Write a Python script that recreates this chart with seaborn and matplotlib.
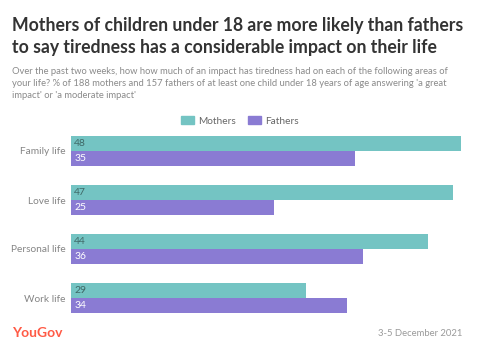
import pandas as pd
import seaborn as sns
import matplotlib.pyplot as plt
from matplotlib.patches import Patch

# Chart data
categories = ["Family life", "Love life", "Personal life", "Work life"]
mothers = [48, 47, 44, 29]
fathers = [35, 25, 36, 34]

df = pd.DataFrame({
    "Area": categories * 2,
    "Group": ["Mothers"] * 4 + ["Fathers"] * 4,
    "Value": mothers + fathers,
})

palette = {"Mothers": "#74c4c3", "Fathers": "#8a7bd3"}

sns.set_theme(style="white")
plt.rcParams["font.family"] = ["Lato", "DejaVu Sans"]

fig = plt.figure(figsize=(4.78, 3.54), dpi=100)
W, H = 478, 354
# axes placed in pixel terms: x=0 at px 71, 50 at px 477
ax = fig.add_axes([71 / W, 1 - 322.5 / H, 406 / W, 196 / H])

sns.barplot(data=df, y="Area", x="Value", hue="Group", palette=palette,
            width=0.612, saturation=1, linewidth=0, ax=ax, legend=False)
ax.set_xlim(0, 50)
ax.set_ylim(3.5, -0.5)
ax.set_xlabel("")
ax.set_ylabel("")
ax.set_xticks([])
sns.despine(ax=ax, left=True, bottom=True)
ax.tick_params(axis="y", length=0, pad=4, labelsize=7.3, labelcolor="#858585")

# value labels inside the bars
for cont, col in zip(ax.containers, ["#3f6866", "white"]):
    for bar in cont:
        ax.text(0.4, bar.get_y() + bar.get_height() / 2, f"{int(bar.get_width())}",
                ha="left", va="center", fontsize=7.5, color=col)

# legend
handles = [Patch(color=palette[g], label=g) for g in ["Mothers", "Fathers"]]
fig.legend(handles=handles, loc="center", bbox_to_anchor=(240 / W, 1 - 121 / H),
           ncol=2, frameon=False, fontsize=7.3, labelcolor="#666666",
           handlelength=1.3, handleheight=0.8, handletextpad=0.4, columnspacing=1.2)

# title and subtitle
fig.text(12 / W, 1 - 25 / H, "Mothers of children under 18 are more likely than fathers",
         fontsize=12.7, fontweight="bold", color="#333333", va="center", ha="left")
fig.text(12 / W, 1 - 48 / H, "to say tiredness has a considerable impact on their life",
         fontsize=12.7, fontweight="bold", color="#333333", va="center", ha="left")
subtitle = ("Over the past two weeks, how how much of an impact has tiredness had on each of the following areas of\n"
            "your life? % of 188 mothers and 157 fathers of at least one child under 18 years of age answering 'a great\n"
            "impact' or 'a moderate impact'")
fig.text(12 / W, 1 - 67 / H, subtitle, fontsize=6.75, color="#8a8a8a", va="top", ha="left",
         linespacing=1.4)

# footer
fig.text(12 / W, 1 - 333 / H, "YouGov", fontsize=10, fontweight="bold", color="#ff5a45",
         va="center", ha="left")
fig.text(462 / W, 1 - 334 / H, "3-5 December 2021", fontsize=6.8, color="#9a9a9a",
         va="center", ha="right")

fig.savefig("out.png", dpi=100)
